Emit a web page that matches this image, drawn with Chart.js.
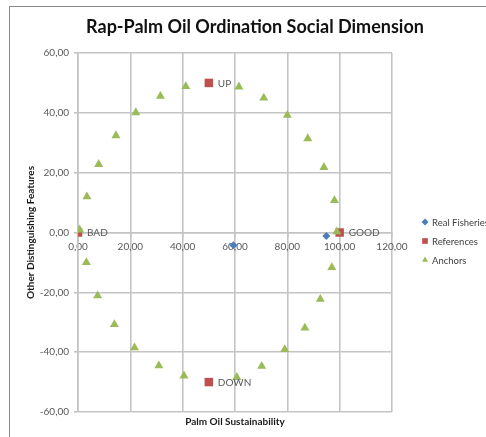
<!DOCTYPE html>
<html>
<head>
<meta charset="utf-8">
<script src="https://cdn.jsdelivr.net/npm/chart.js@4.4.0/dist/chart.umd.min.js"></script>
<style>
  html, body { margin: 0; padding: 0; background: #fff; overflow: hidden; }
  #wrap { position: relative; width: 486px; height: 437px; }
</style>
</head>
<body>
<div id="wrap"><canvas id="c" width="486" height="437"></canvas></div>
<script>
// Texts
const chartTitle = 'Rap-Palm Oil Ordination Social Dimension';
const xAxisTitle = 'Palm Oil Sustainability';
const yAxisTitle = 'Other Distinguishing Features';
const seriesNames = ['Real Fisheries', 'References', 'Anchors'];

// Real fisheries
const realX = [59.4, 94.9];
const realY = [-4.3, -1.2];

// Reference points
const refX = [100, 0, 50, 50];
const refY = [0, 0, 50, -50];
const refLabels = ['GOOD', 'BAD', 'UP', 'DOWN'];

// Anchor points
const anchorX = [0.6, 3.4, 7.9, 14.5, 22.1, 31.5, 41.2, 61.5, 71.0, 80.0, 87.8, 94.0, 98.0,
                 98.9, 97.0, 92.6, 86.7, 79.0, 70.2, 60.7, 40.5, 30.9, 21.6, 13.9, 7.5, 3.2];
const anchorY = [0.9, 12.0, 22.8, 32.4, 40.1, 45.6, 48.8, 48.7, 45.0, 39.2, 31.4, 21.8, 10.7,
                 0.3, -11.7, -22.3, -31.9, -39.1, -44.7, -48.4, -47.9, -44.5, -38.5, -30.7, -21.1, -10.0];

// Axis ticks
const xTicks = [0, 20, 40, 60, 80, 100, 120];
const yTicks = [-60, -40, -20, 0, 20, 40, 60];

const FONT = 'Lato, "Open Sans", sans-serif';
const COLORS = ['#4A7EBB', '#C0504D', '#9BBB59'];
const GRID = '#c4c4c4';

const toPoints = (xs, ys) => xs.map((x, i) => ({ x: x, y: ys[i] }));
const fmt = v => Number(v).toFixed(2).replace('.', ',');

const datasets = [
  { label: seriesNames[0], data: toPoints(realX, realY), pointStyle: 'rectRot', pointRadius: 4,
    backgroundColor: COLORS[0], borderColor: COLORS[0], borderWidth: 0, order: 2 },
  { label: seriesNames[1], data: toPoints(refX, refY), pointStyle: 'rect', pointRadius: 6,
    backgroundColor: COLORS[1], borderColor: COLORS[1], borderWidth: 0, order: 1 },
  { label: seriesNames[2], data: toPoints(anchorX, anchorY), pointStyle: 'triangle', pointRadius: 5.2,
    backgroundColor: COLORS[2], borderColor: COLORS[2], borderWidth: 0, order: 0 }
];

// Frame, title, point labels and legend
const decorations = {
  id: 'decorations',
  beforeDraw(chart) {
    const ctx = chart.ctx;
    ctx.save();
    ctx.strokeStyle = '#8a8a8a';
    ctx.lineWidth = 1;
    ctx.strokeRect(9.5, 6.5, 700, 700);
    ctx.fillStyle = '#111111';
    ctx.font = 'bold 18px ' + FONT;
    ctx.textAlign = 'center';
    ctx.textBaseline = 'middle';
    ctx.fillText(chartTitle, 255, 27);
    ctx.restore();
  },
  afterDatasetsDraw(chart) {
    const ctx = chart.ctx;
    ctx.save();
    ctx.fillStyle = '#595959';
    ctx.font = '10px ' + FONT;
    ctx.textAlign = 'left';
    ctx.textBaseline = 'middle';
    const meta = chart.getDatasetMeta(1);
    meta.data.forEach((el, i) => {
      ctx.fillText(refLabels[i], el.x + 9, el.y + 0.5);
    });

    // legend
    const lx = 425, ly = [222, 241, 260];
    ctx.font = '9.5px ' + FONT;
    datasets.forEach((ds, i) => {
      ctx.fillStyle = ds.backgroundColor;
      ctx.strokeStyle = ds.backgroundColor;
      Chart.helpers.drawPoint(ctx, { pointStyle: ds.pointStyle, radius: i === 1 ? 4 : 3.5, borderWidth: 0 }, lx, ly[i]);
      ctx.fillStyle = '#404040';
      ctx.fillText(ds.label, lx + 7, ly[i] + 0.5);
    });
    ctx.restore();
  }
};

new Chart(document.getElementById('c'), {
  type: 'scatter',
  data: { datasets: datasets },
  plugins: [decorations],
  options: {
    responsive: false,
    devicePixelRatio: 1,
    animation: false,
    layout: { padding: { left: 0, top: 53, right: 94, bottom: 0 } },
    plugins: { legend: { display: false }, tooltip: { enabled: false }, title: { display: false } },
    scales: {
      x: {
        type: 'linear',
        position: { y: 0 },
        min: 0, max: 120,
        afterBuildTicks: s => { s.ticks = xTicks.map(v => ({ value: v })); },
        ticks: { callback: v => fmt(v), color: '#595959', font: { family: FONT, size: 10 }, padding: 4, maxRotation: 0, autoSkip: false },
        grid: { color: GRID, lineWidth: 1.6, tickLength: 4, tickColor: GRID },
        border: { color: GRID, width: 1.6 }
      },
      y: {
        type: 'linear',
        position: 'left',
        min: -60, max: 60,
        afterBuildTicks: s => { s.ticks = yTicks.map(v => ({ value: v })); },
        afterFit: s => { s.width = 78; },
        ticks: { callback: v => fmt(v), color: '#595959', font: { family: FONT, size: 10 }, padding: 5, autoSkip: false },
        grid: { color: GRID, lineWidth: 1.6, tickLength: 4, tickColor: GRID },
        border: { color: GRID, width: 1.6 },
        title: { display: true, text: yAxisTitle, color: '#1a1a1a', font: { family: FONT, size: 10, weight: 'bold' }, padding: { top: 25, bottom: 0 } }
      },
      xt: {
        type: 'linear',
        position: 'bottom',
        min: 0, max: 120,
        afterFit: s => { s.height = 25; },
        ticks: { display: false },
        grid: { display: false },
        border: { display: false },
        title: { display: true, text: xAxisTitle, color: '#1a1a1a', font: { family: FONT, size: 10, weight: 'bold' }, padding: { top: 0, bottom: 9 } }
      }
    }
  }
});
</script>
</body>
</html>
